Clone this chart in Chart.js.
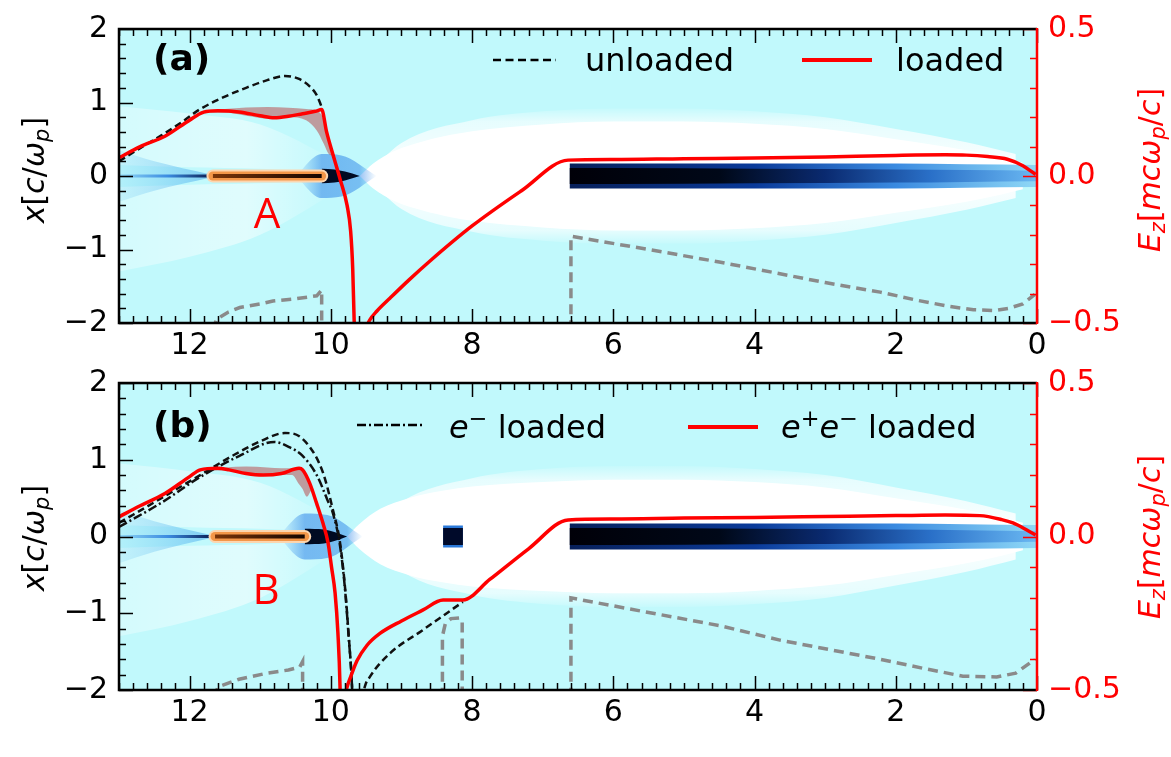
<!DOCTYPE html>
<html>
<head>
<meta charset="utf-8">
<script src="https://cdn.jsdelivr.net/npm/chart.js@4.4.1/dist/chart.umd.min.js"></script>
<style>
  body { margin: 0; width: 1171px; height: 757px; position: relative; overflow: hidden; background: #fff; font-family: "DejaVu Sans", sans-serif; }
  canvas { position: absolute; left: 0; top: 0; }
  .t { position: absolute; white-space: nowrap; line-height: 1; transform: translateY(-50%); font-size: 32px; color: #000; }
  .vt { position: absolute; white-space: nowrap; line-height: 1; font-size: 30px; transform: translate(-50%, -50%) rotate(-90deg); }
  .vt sub, .t sub { font-size: 0.7em; vertical-align: -0.25em; line-height: 0; }
  .t sup { font-size: 0.7em; vertical-align: 0.55em; line-height: 0; }
  .mark { position: absolute; font-family: "Open Sans", sans-serif; color: #ff0000; font-size: 42px; line-height: 1; transform: translate(-50%, -50%); }
  svg { position: absolute; left: 0; top: 0; }
</style>
</head>
<body>
<canvas id="panelA" width="1171" height="757"></canvas>
<canvas id="panelB" width="1171" height="757"></canvas>

<svg width="1171" height="757">
  <line x1="493" y1="60" x2="556" y2="60" stroke="#000" stroke-width="2.5" stroke-dasharray="8 4.5"/>
  <line x1="802" y1="60" x2="872" y2="60" stroke="#ff0000" stroke-width="4"/>
  <line x1="357" y1="425" x2="423" y2="425" stroke="#000" stroke-width="2.5" stroke-dasharray="9 3 2 3"/>
  <line x1="688" y1="427" x2="758" y2="427" stroke="#ff0000" stroke-width="4"/>
</svg>

<div class="t" style="left:153px;top:58px;font-weight:bold;font-size:36px">(a)</div>
<div class="t" style="left:153px;top:425px;font-weight:bold;font-size:36px">(b)</div>
<div class="t" style="left:585px;top:60px">unloaded</div>
<div class="t" style="left:896px;top:60px">loaded</div>
<div class="t" style="left:449px;top:427px"><i>e</i><sup>−</sup> loaded</div>
<div class="t" style="left:781px;top:427px"><i>e</i><sup>+</sup><i>e</i><sup>−</sup> loaded</div>
<div class="mark" style="left:267px;top:212px">A</div>
<div class="mark" style="left:266px;top:588px">B</div>
<div class="vt" style="left:34px;top:170px"><i>x</i>[<i>c</i>/<i>ω</i><sub><i>p</i></sub>]</div>
<div class="vt" style="left:34px;top:538px"><i>x</i>[<i>c</i>/<i>ω</i><sub><i>p</i></sub>]</div>
<div class="vt" style="left:1150px;top:170px;color:#ff0000"><i>E</i><sub><i>z</i></sub>[<i>mcω</i><sub><i>p</i></sub>/<i>c</i>]</div>
<div class="vt" style="left:1150px;top:537px;color:#ff0000"><i>E</i><sub><i>z</i></sub>[<i>mcω</i><sub><i>p</i></sub>/<i>c</i>]</div>

<script>
// tick labels
const xTicks = [0, 2, 4, 6, 8, 10, 12];
const yTicks = [-2, -1, 0, 1, 2];
const ezTicks = [-0.5, 0, 0.5];

// ---- panel (a): Ez curves (right axis), null = curve leaves the frame ----
const unloadedA = [[13, 0.05], [12.7, 0.095], [12.4, 0.138], [12.1, 0.185], [11.86, 0.226], [11.5, 0.27], [11.2, 0.3],
  [10.9, 0.326], [10.65, 0.34], [10.45, 0.33], [10.3, 0.305], [10.2, 0.275], [10.13, 0.235]];
const loadedA = [[13, 0.062], [12.7, 0.1], [12.35, 0.135], [12.0, 0.19], [11.8, 0.217], [11.6, 0.222], [11.3, 0.218],
  [11.0, 0.205], [10.8, 0.198], [10.6, 0.203], [10.4, 0.212], [10.22, 0.22], [10.13, 0.226], [10.06, 0.15],
  [9.97, 0.073], [9.87, -0.01], [9.77, -0.1], [9.72, -0.187], [9.69, -0.317], [9.67, -0.49], [9.655, -0.56],
  [9.56, null], [9.5, -0.515], [9.45, -0.49], [9.35, -0.46], [9.16, -0.415], [8.9, -0.355], [8.6, -0.29],
  [8.0, -0.17], [7.3, -0.05], [6.64, 0.054], [6.0, 0.056], [5.0, 0.059], [4.0, 0.061], [3.0, 0.065], [2.0, 0.07],
  [1.3, 0.072], [1.0, 0.071], [0.7, 0.066], [0.42, 0.057], [0.2, 0.035], [0.02, 0.005]];
const bandAX = [12.1, 11.8, 11.5, 11.2, 10.9, 10.6, 10.35, 10.2, 10.1, 10.03, 9.98];
const bandAHi = [0.18, 0.222, 0.228, 0.233, 0.235, 0.232, 0.228, 0.222, 0.19, 0.11, 0.07];
const bandALo = [0.18, 0.215, 0.215, 0.205, 0.195, 0.2, 0.19, 0.155, 0.11, 0.075, 0.07];
// beam current profile (left axis)
const grayA1 = [[11.67, -2.1], [11.62, -1.95], [11.45, -1.85], [11.29, -1.79], [11.0, -1.74], [10.82, -1.7],
  [10.5, -1.67], [10.2, -1.63], [10.13, -1.55], [10.13, -2.1]];
const grayA2 = [[6.6, -2.1], [6.6, -0.82], [5.5, -1.0], [4.5, -1.17], [3.64, -1.33], [3.0, -1.45], [2.22, -1.58],
  [1.7, -1.69], [1.27, -1.77], [0.9, -1.82], [0.6, -1.83], [0.4, -1.8], [0.2, -1.74], [0.03, -1.61]];
// density map: blown-out bubble and beams (left axis)
const bubbleAX = [9.59, 9.4, 9.1, 8.7, 8.3, 8.0, 7.0, 6.0, 5.0, 4.0, 3.0, 2.0, 1.0, 0.5, 0.2];
const bubbleAUp = [0, 0.17, 0.34, 0.47, 0.56, 0.61, 0.7, 0.74, 0.74, 0.71, 0.64, 0.5, 0.35, 0.25, 0.18];
const bubbleALo = [0, -0.17, -0.34, -0.47, -0.56, -0.61, -0.7, -0.74, -0.74, -0.71, -0.64, -0.5, -0.35, -0.25, -0.18];
const spotAX = [10.13, 9.95, 9.8, 9.59];
const spotAUp = [0.1, 0.09, 0.06, 0];
const spotALo = [-0.1, -0.09, -0.06, 0];
const glowAX = [10.5, 10.13, 9.85, 9.35];
const glowAUp = [0, 0.3, 0.28, 0];
const glowALo = [0, -0.3, -0.28, 0];
const witnessA = [[11.67, 0], [10.13, 0]];
const tailA = [[13, 0], [11.67, 0]];

// ---- panel (b) ----
const unloadedB = [[13, 0.044], [12.4, 0.125], [11.85, 0.2], [11.4, 0.262], [11.0, 0.31], [10.65, 0.337], [10.55, 0.336],
  [10.3, 0.292], [10.11, 0.207], [9.97, 0.086], [9.87, -0.02], [9.8, -0.164], [9.75, -0.314], [9.7, -0.49],
  [9.69, -0.56], [9.6, null], [9.55, -0.53], [9.52, -0.49], [9.45, -0.458], [9.16, -0.38], [8.7, -0.305], [8.13, -0.213]];
const eLoadedB = [[13, 0.031], [12.4, 0.11], [11.85, 0.194], [11.3, 0.262], [10.8, 0.308], [10.58, 0.29], [10.41, 0.265],
  [10.2, 0.2], [10.05, 0.12], [9.97, 0.075], [9.87, -0.03], [9.8, -0.17], [9.75, -0.32], [9.7, -0.49], [9.69, -0.56]];
const loadedB = [[13, 0.064], [12.7, 0.1], [12.35, 0.14], [12.0, 0.195], [11.85, 0.217], [11.6, 0.222], [11.44, 0.217],
  [11.2, 0.205], [10.96, 0.2], [10.7, 0.205], [10.45, 0.222], [10.4, 0.217], [10.3, 0.174], [10.2, 0.107],
  [10.11, 0.042], [10.04, -0.02], [9.99, -0.1], [9.94, -0.184], [9.9, -0.314], [9.87, -0.49], [9.865, -0.56],
  [9.82, null], [9.79, -0.51], [9.77, -0.49], [9.7, -0.445], [9.63, -0.405], [9.49, -0.355], [9.3, -0.315], [9.0, -0.275],
  [8.7, -0.24], [8.41, -0.207], [8.13, -0.207], [7.75, -0.14], [7.2, -0.04], [6.64, 0.054], [6.0, 0.057], [5.0, 0.06],
  [4.0, 0.062], [3.0, 0.065], [2.0, 0.068], [1.3, 0.07], [0.81, 0.068], [0.5, 0.055], [0.34, 0.044], [0.15, 0.022],
  [0.02, 0.005]];
const bandBX = [12.1, 11.8, 11.5, 11.2, 10.9, 10.7, 10.55, 10.45, 10.4, 10.34, 10.28];
const bandBHi = [0.18, 0.217, 0.225, 0.228, 0.225, 0.222, 0.222, 0.223, 0.22, 0.185, 0.15];
const bandBLo = [0.18, 0.215, 0.215, 0.205, 0.198, 0.2, 0.2, 0.17, 0.155, 0.13, 0.15];
const grayB1 = [[11.65, -2.1], [11.6, -1.96], [11.3, -1.86], [10.9, -1.78], [10.6, -1.74], [10.44, -1.7], [10.4, -1.63], [10.4, -2.1]];
const grayB2 = [[8.42, -2.1], [8.42, -1.3], [8.38, -1.14], [8.3, -1.07], [8.18, -1.06], [8.14, -1.1], [8.14, -2.1]];
const grayB3 = [[6.6, -2.1], [6.6, -0.8], [5.5, -0.99], [4.5, -1.16], [3.64, -1.35], [2.9, -1.48], [2.22, -1.6],
  [1.6, -1.72], [1.05, -1.82], [0.57, -1.83], [0.3, -1.78], [0.03, -1.6]];
const bubbleBX = [9.77, 9.6, 9.3, 8.9, 8.4, 8.0, 7.0, 6.0, 5.0, 4.0, 3.0, 2.0, 1.0, 0.5, 0.2];
const bubbleBUp = [0, 0.16, 0.36, 0.5, 0.6, 0.65, 0.71, 0.74, 0.74, 0.71, 0.64, 0.5, 0.35, 0.25, 0.18];
const bubbleBLo = [0, -0.16, -0.36, -0.5, -0.6, -0.65, -0.71, -0.74, -0.74, -0.71, -0.64, -0.5, -0.35, -0.25, -0.18];
const spotBX = [10.37, 10.1, 9.95, 9.77];
const spotBUp = [0.1, 0.09, 0.06, 0];
const spotBLo = [-0.1, -0.09, -0.06, 0];
const glowBX = [10.75, 10.37, 10.05, 9.55];
const glowBUp = [0, 0.3, 0.28, 0];
const glowBLo = [0, -0.3, -0.28, 0];
const witnessB = [[11.64, 0], [10.37, 0]];
const tailB = [[13, 0], [11.64, 0]];
const positronB = [[8.41, 0], [8.13, 0]];

// shared by both panels
const haloX = [9.5, 9.0, 8.0, 7.0, 6.0, 5.0, 4.0, 3.0, 2.0, 1.0, 0.3];
const haloUp = [0, 0.45, 0.76, 0.88, 0.92, 0.92, 0.88, 0.8, 0.64, 0.46, 0.3];
const haloLo = [0, -0.45, -0.76, -0.88, -0.92, -0.92, -0.88, -0.8, -0.64, -0.46, -0.3];
const fanX = [9.9, 11, 12, 13];
const fanUpHi = [0.2, 0.7, 0.85, 0.95];
const fanUpLo = [0.05, 0.1, 0.12, 0.15];
const fanDnHi = [-0.05, -0.1, -0.12, -0.15];
const fanDnLo = [-0.2, -0.8, -1.1, -1.3];
const tailGlowX = [11.7, 12.5, 13];
const tailGlowUp = [0.02, 0.2, 0.35];
const tailGlowLo = [-0.02, -0.2, -0.35];
const driverX = [6.62, 6.0, 4.0, 2.0, 1.0, 0.0];
const driverOutUp = [0.17, 0.17, 0.17, 0.17, 0.16, 0.15];
const driverOutLo = [-0.17, -0.17, -0.17, -0.17, -0.16, -0.15];
const driverCoreUp = [0.11, 0.11, 0.1, 0.09, 0.08, 0.07];
const driverCoreLo = [-0.11, -0.11, -0.1, -0.09, -0.08, -0.07];

Chart.defaults.font.family = '"DejaVu Sans", sans-serif';

function grad(chart, axis, stops) {
  const { ctx, chartArea, scales } = chart;
  if (!chartArea) return stops[0][1];
  const s = scales[axis];
  const p0 = s.getPixelForValue(stops[0][0]);
  const p1 = s.getPixelForValue(stops[stops.length - 1][0]);
  const g = axis === 'x' ? ctx.createLinearGradient(p0, 0, p1, 0) : ctx.createLinearGradient(0, p0, 0, p1);
  stops.forEach(([v, c]) => g.addColorStop((s.getPixelForValue(v) - p0) / (p1 - p0), c));
  return g;
}

function fillBetween(list, xs, hi, lo, color, order, axis) {
  const yAxisID = axis || 'y';
  list.push({ data: xs.map((x, i) => ({ x, y: lo[i] })), yAxisID, borderColor: 'transparent', borderWidth: 0, pointRadius: 0, fill: false, order });
  const target = list.length - 1;
  list.push({ data: xs.map((x, i) => ({ x, y: hi[i] })), yAxisID, borderColor: 'transparent', borderWidth: 0, pointRadius: 0,
    backgroundColor: color, fill: target, order });
}

function curve(list, xy, style) {
  list.push(Object.assign({ data: xy.map(([x, y]) => ({ x, y })), pointRadius: 0, fill: false }, style));
}

// cyan background, inward ticks and the frame
const frame = {
  id: 'frame',
  beforeDraw(chart) {
    const { ctx, chartArea: a } = chart;
    ctx.save();
    ctx.fillStyle = '#c1f9fc';
    ctx.fillRect(a.left, a.top, a.width, a.height);
    ctx.restore();
  },
  afterDraw(chart) {
    const { ctx, chartArea: a, scales } = chart;
    const line = (x1, y1, x2, y2) => { ctx.beginPath(); ctx.moveTo(x1, y1); ctx.lineTo(x2, y2); ctx.stroke(); };
    ctx.save();
    ctx.lineWidth = 1.5;
    ctx.strokeStyle = '#000';
    for (let k = 0; k <= 65; k++) {
      const px = Math.round(scales.x.getPixelForValue(k * 0.2)) + 0.5;
      const len = k % 10 === 0 ? 14 : 7;
      line(px, a.bottom, px, a.bottom - len);
      line(px, a.top, px, a.top + len);
    }
    for (let k = -10; k <= 10; k++) {
      const py = Math.round(scales.y.getPixelForValue(k * 0.2)) + 0.5;
      line(a.left, py, a.left + (k % 5 === 0 ? 14 : 7), py);
    }
    ctx.strokeStyle = '#ff0000';
    for (let k = -5; k <= 5; k++) {
      const py = Math.round(scales.y2.getPixelForValue(k * 0.1)) + 0.5;
      line(a.right, py, a.right - (k % 5 === 0 ? 14 : 7), py);
    }
    ctx.lineWidth = 2.5;
    ctx.strokeStyle = '#000';
    ctx.beginPath();
    ctx.moveTo(a.right, a.top); ctx.lineTo(a.left, a.top); ctx.lineTo(a.left, a.bottom); ctx.lineTo(a.right, a.bottom);
    ctx.stroke();
    ctx.strokeStyle = '#ff0000';
    line(a.right, a.top - 1, a.right, a.bottom + 1);
    ctx.restore();
  }
};

const W0 = 'rgba(255,255,255,0)';

function background(ds, p) {
  const fanGrad = c => grad(c.chart, 'x', [[9.9, W0], [11.2, 'rgba(255,255,255,0.5)'], [13, 'rgba(255,255,255,0.3)']]);
  fillBetween(ds, fanX, fanUpHi, fanUpLo, fanGrad, 95);
  fillBetween(ds, fanX, fanDnHi, fanDnLo, fanGrad, 95);
  fillBetween(ds, haloX, haloUp, haloLo, c => grad(c.chart, 'y', [[0.95, W0], [0.74, 'rgba(255,255,255,0.6)'],
    [0, '#ffffff'], [-0.74, 'rgba(255,255,255,0.6)'], [-0.95, W0]]), 92);
  fillBetween(ds, p.bubbleX, p.bubbleUp, p.bubbleLo, '#ffffff', 90);
  fillBetween(ds, tailGlowX, tailGlowUp, tailGlowLo, c => grad(c.chart, 'x', [[11.7, 'rgba(60,160,235,0.5)'], [13, 'rgba(90,190,240,0.15)']]), 85);
  fillBetween(ds, p.glowX, p.glowUp, p.glowLo, c => grad(c.chart, 'x', [[p.glowX[0], 'rgba(40,140,235,0)'],
    [p.spotX[0], 'rgba(30,120,230,0.5)'], [p.spotX[3], 'rgba(30,120,230,0.45)'], [p.glowX[3], 'rgba(40,140,235,0)']]), 84);
  fillBetween(ds, driverX, driverOutUp, driverOutLo,
    c => grad(c.chart, 'x', [[6.62, '#08205a'], [4.0, '#0a3a9a'], [2.0, '#3a8ae0'], [0, '#8fd8f6']]), 80);
  fillBetween(ds, driverX, driverCoreUp, driverCoreLo,
    c => grad(c.chart, 'x', [[6.62, '#000008'], [4.5, '#000818'], [3.0, '#0a2a70'], [1.5, '#2a70c8'], [0, '#6ab8f2']]), 79);
  curve(ds, p.tail, { borderWidth: 3, order: 78, borderColor: c => grad(c.chart, 'x', [[13, '#8fd8f6'], [12.3, '#3a8ae0'], [p.tail[1][0], '#06184a']]) });
  fillBetween(ds, p.spotX, p.spotUp, p.spotLo, '#000a22', 77);
  curve(ds, p.witness, { borderWidth: 13, borderColor: '#fcd6b0', borderCapStyle: 'round', order: 76 });
  curve(ds, p.witness, { borderWidth: 9, borderColor: '#f39648', borderCapStyle: 'round', order: 75 });
  curve(ds, p.witness, { borderWidth: 4, order: 74, borderColor: c => grad(c.chart, 'x', [[p.witness[0][0], '#7a3408'], [p.witness[1][0], '#140500']]) });
}

function makePanel(id, p) {
  const ds = [];
  background(ds, p);
  if (p.positron) {
    curve(ds, p.positron, { borderWidth: 22, borderColor: '#2a78d8', order: 73 });
    curve(ds, p.positron, { borderWidth: 17, borderColor: '#000a2a', order: 72 });
  }
  fillBetween(ds, p.bandX, p.bandHi, p.bandLo, 'rgba(185,80,80,0.55)', 30, 'y2');
  p.gray.forEach(g => curve(ds, g, { borderWidth: 3.5, borderColor: '#8a8a8a', borderDash: [10, 6], tension: 0, cubicInterpolationMode: 'default', order: 20 }));
  curve(ds, p.unloaded, { yAxisID: 'y2', borderWidth: 2.5, borderColor: '#111', borderDash: [7, 4], order: 15 });
  if (p.eLoaded) curve(ds, p.eLoaded, { yAxisID: 'y2', borderWidth: 2.5, borderColor: '#111', borderDash: [9, 3, 2, 3], order: 14 });
  curve(ds, p.loaded, { yAxisID: 'y2', borderWidth: 3.5, borderColor: '#ff0000', order: 1 });

  const tickFont = { size: 30 };
  new Chart(document.getElementById(id), {
    type: 'line',
    data: { datasets: ds },
    options: {
      responsive: false,
      animation: false,
      devicePixelRatio: 1,
      layout: { padding: { top: p.top, bottom: p.bottom, left: 0, right: 0 } },
      plugins: { legend: { display: false }, tooltip: { enabled: false } },
      elements: { line: { cubicInterpolationMode: 'monotone' } },
      scales: {
        x: {
          type: 'linear', min: 0, max: 13, reverse: true,
          grid: { display: false, drawTicks: false }, border: { display: false },
          afterBuildTicks: s => { s.ticks = xTicks.map(value => ({ value })); },
          afterFit: s => { s.height = p.xh; },
          ticks: { color: '#000', padding: 5, font: tickFont, maxRotation: 0, autoSkip: false }
        },
        y: {
          type: 'linear', min: -2, max: 2, position: 'left',
          grid: { display: false, drawTicks: false }, border: { display: false },
          afterBuildTicks: s => { s.ticks = yTicks.map(value => ({ value })); },
          afterFit: s => { s.width = 119; },
          ticks: { color: '#000', padding: 11, font: tickFont, callback: v => String(v).replace('-', '\u2212') }
        },
        y2: {
          type: 'linear', min: -0.5, max: 0.5, position: 'right',
          grid: { display: false, drawTicks: false }, border: { display: false },
          afterBuildTicks: s => { s.ticks = ezTicks.map(value => ({ value })); },
          afterFit: s => { s.width = 134; },
          ticks: { color: '#ff0000', padding: 11, font: tickFont, callback: v => Number(v).toFixed(1).replace('-', '\u2212') }
        }
      }
    },
    plugins: [frame]
  });
}

makePanel('panelA', {
  top: 16, bottom: 379, xh: 55,
  loaded: loadedA, unloaded: unloadedA, gray: [grayA1, grayA2],
  bandX: bandAX, bandHi: bandAHi, bandLo: bandALo,
  bubbleX: bubbleAX, bubbleUp: bubbleAUp, bubbleLo: bubbleALo,
  spotX: spotAX, spotUp: spotAUp, spotLo: spotALo,
  glowX: glowAX, glowUp: glowAUp, glowLo: glowALo,
  witness: witnessA, tail: tailA
});

makePanel('panelB', {
  top: 383, bottom: 0, xh: 67,
  loaded: loadedB, unloaded: unloadedB, eLoaded: eLoadedB, gray: [grayB1, grayB2, grayB3],
  bandX: bandBX, bandHi: bandBHi, bandLo: bandBLo,
  bubbleX: bubbleBX, bubbleUp: bubbleBUp, bubbleLo: bubbleBLo,
  spotX: spotBX, spotUp: spotBUp, spotLo: spotBLo,
  glowX: glowBX, glowUp: glowBUp, glowLo: glowBLo,
  witness: witnessB, tail: tailB, positron: positronB
});
</script>
</body>
</html>
